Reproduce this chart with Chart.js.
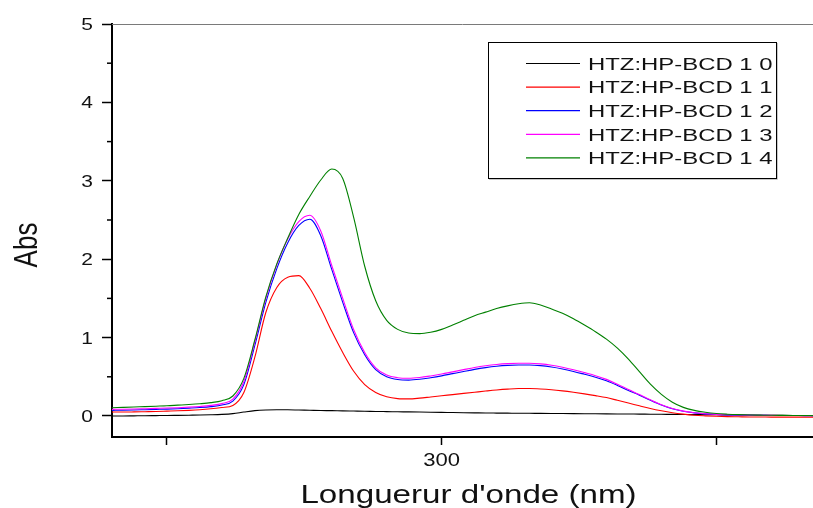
<!DOCTYPE html>
<html>
<head>
<meta charset="utf-8">
<script src="https://cdn.jsdelivr.net/npm/chart.js@4.4.0/dist/chart.umd.min.js"></script>
<style>
  html, body { margin: 0; padding: 0; background: #fff; }
  #wrap { width: 813px; height: 508px; }
</style>
</head>
<body>
<div id="wrap"><canvas id="absChart" width="813" height="508"></canvas></div>
<script>
// wavelength (nm)
const wavelengths = [240, 242, 244, 246, 248, 250, 252, 254, 256, 258,
  260, 262, 264, 266, 268, 270, 272, 274, 276, 278,
  280, 282, 284, 286, 288, 290, 292, 294, 296, 298,
  300, 302, 304, 306, 308, 310, 312, 314, 316, 318,
  320, 322, 324, 326, 328, 330, 332, 334, 336, 338,
  340, 342, 344, 346, 348, 350, 352, 354, 356, 358,
  360, 362, 364, 366, 368];

// absorbance, HTZ:HP-BCD molar ratios
const ratio10 = [0.000, 0.000, 0.002, 0.004, 0.005, 0.006, 0.008, 0.010, 0.012, 0.015,
  0.020, 0.030, 0.050, 0.068, 0.077, 0.080, 0.079, 0.076, 0.073, 0.070,
  0.068, 0.065, 0.063, 0.061, 0.058, 0.056, 0.054, 0.052, 0.050, 0.048,
  0.046, 0.044, 0.042, 0.040, 0.038, 0.037, 0.036, 0.035, 0.034, 0.033,
  0.032, 0.031, 0.030, 0.029, 0.028, 0.027, 0.026, 0.025, 0.024, 0.023,
  0.022, 0.020, 0.019, 0.018, 0.016, 0.015, 0.013, 0.012, 0.011, 0.010,
  0.009, 0.008, 0.007, 0.006, 0.005];

const ratio11 = [0.050, 0.050, 0.052, 0.055, 0.058, 0.062, 0.066, 0.072, 0.080, 0.092,
  0.108, 0.135, 0.300, 0.750, 1.320, 1.640, 1.770, 1.790, 1.630, 1.370,
  1.080, 0.810, 0.570, 0.400, 0.300, 0.245, 0.222, 0.218, 0.228, 0.243,
  0.258, 0.273, 0.288, 0.303, 0.318, 0.332, 0.343, 0.350, 0.350, 0.345,
  0.335, 0.320, 0.302, 0.282, 0.260, 0.235, 0.200, 0.165, 0.130, 0.095,
  0.066, 0.042, 0.024, 0.010, 0.002, -0.004, -0.008, -0.010, -0.012, -0.013,
  -0.014, -0.015, -0.015, -0.015, -0.015];

const ratio12 = [0.072, 0.073, 0.076, 0.080, 0.084, 0.088, 0.093, 0.100, 0.108, 0.120,
  0.140, 0.190, 0.400, 0.900, 1.450, 1.880, 2.210, 2.430, 2.510, 2.300,
  1.870, 1.450, 1.060, 0.780, 0.590, 0.500, 0.465, 0.458, 0.468, 0.488,
  0.512, 0.540, 0.568, 0.595, 0.617, 0.634, 0.645, 0.650, 0.650, 0.642,
  0.625, 0.600, 0.568, 0.532, 0.495, 0.450, 0.390, 0.325, 0.265, 0.200,
  0.140, 0.092, 0.060, 0.040, 0.027, 0.019, 0.014, 0.011, 0.009, 0.008,
  0.007, 0.006, 0.006, 0.005, 0.005];

const ratio13 = [0.085, 0.086, 0.089, 0.093, 0.097, 0.101, 0.106, 0.113, 0.122, 0.135,
  0.158, 0.215, 0.440, 0.950, 1.500, 1.930, 2.260, 2.480, 2.560, 2.360,
  1.920, 1.500, 1.100, 0.810, 0.615, 0.522, 0.488, 0.481, 0.491, 0.511,
  0.535, 0.563, 0.591, 0.618, 0.640, 0.657, 0.668, 0.673, 0.673, 0.665,
  0.648, 0.622, 0.590, 0.553, 0.514, 0.467, 0.405, 0.337, 0.273, 0.206,
  0.144, 0.095, 0.062, 0.041, 0.028, 0.020, 0.015, 0.012, 0.010, 0.009,
  0.008, 0.007, 0.007, 0.006, 0.006];

const ratio14 = [0.105, 0.110, 0.115, 0.120, 0.125, 0.130, 0.138, 0.146, 0.156, 0.170,
  0.195, 0.255, 0.480, 0.970, 1.520, 1.940, 2.270, 2.570, 2.800, 3.010,
  3.150, 3.030, 2.530, 1.910, 1.470, 1.220, 1.105, 1.058, 1.050, 1.068,
  1.105, 1.160, 1.220, 1.280, 1.325, 1.370, 1.405, 1.432, 1.445, 1.415,
  1.365, 1.310, 1.240, 1.160, 1.075, 0.980, 0.865, 0.725, 0.565, 0.405,
  0.275, 0.175, 0.110, 0.072, 0.048, 0.032, 0.023, 0.017, 0.013, 0.011,
  0.009, 0.008, 0.007, 0.006, 0.006];

const seriesNames = ['HTZ:HP-BCD 1 0', 'HTZ:HP-BCD 1 1', 'HTZ:HP-BCD 1 2', 'HTZ:HP-BCD 1 3', 'HTZ:HP-BCD 1 4'];
const seriesValues = [ratio10, ratio11, ratio12, ratio13, ratio14];
const seriesColors = ['#000000', '#ff0000', '#0000ff', '#ff00ff', '#008000'];

const yTicks = [0, 1, 2, 3, 4, 5];
const yMinorTicks = [0.5, 1.5, 2.5, 3.5, 4.5];
const xTicks = [250, 300, 350];
const xTickLabels = ['', '300', ''];

const FONT = "'Liberation Sans', Arial, sans-serif";

// text in this figure is drawn wide, so squeeze it through a horizontal scale
function wideText(ctx, text, x, y, size, sx, align) {
  ctx.save();
  ctx.translate(x, y);
  ctx.scale(sx, 1);
  ctx.font = size + 'px ' + FONT;
  ctx.textAlign = align;
  ctx.textBaseline = 'alphabetic';
  ctx.fillStyle = '#111';
  ctx.fillText(text, 0, 0);
  ctx.restore();
}

const decorPlugin = {
  id: 'decor',
  afterDraw(chart) {
    const ctx = chart.ctx;
    const area = chart.chartArea;
    const xs = chart.scales.x;
    const ys = chart.scales.y;

    // thin frame line along the top
    ctx.save();
    ctx.strokeStyle = '#7a7a7a';
    ctx.lineWidth = 1;
    ctx.beginPath();
    ctx.moveTo(area.left, area.top + 0.5);
    ctx.lineTo(area.right, area.top + 0.5);
    ctx.stroke();

    // minor ticks on the y axis
    ctx.strokeStyle = '#000';
    ctx.lineWidth = 1.5;
    yMinorTicks.forEach(v => {
      const py = ys.getPixelForValue(v);
      ctx.beginPath();
      ctx.moveTo(area.left - 5, py);
      ctx.lineTo(area.left, py);
      ctx.stroke();
    });
    ctx.restore();

    // tick labels
    yTicks.forEach(v => {
      const py = ys.getPixelForValue(v);
      wideText(ctx, String(v), 93, py + 6, 16.5, 1.27, 'right');
    });
    xTicks.forEach((v, i) => {
      if (!xTickLabels[i]) return;
      wideText(ctx, xTickLabels[i], xs.getPixelForValue(v), 466, 19, 1.16, 'center');
    });

    // axis titles
    wideText(ctx, "Longuerur d'onde (nm)", 468.5, 503, 25.5, 1.3, 'center');
    ctx.save();
    ctx.translate(36.5, 245);
    ctx.scale(1.3, 1);
    ctx.rotate(-Math.PI / 2);
    ctx.font = '26px ' + FONT;
    ctx.textAlign = 'center';
    ctx.textBaseline = 'alphabetic';
    ctx.fillStyle = '#111';
    ctx.fillText('Abs', 0, 0);
    ctx.restore();

    // legend box
    const box = { left: 488, top: 42, right: 776, bottom: 178 };
    ctx.save();
    ctx.strokeStyle = '#c8c8c8';
    ctx.lineWidth = 1;
    ctx.beginPath();
    ctx.moveTo(box.left + 1, box.bottom + 1.5);
    ctx.lineTo(box.right + 1.5, box.bottom + 1.5);
    ctx.lineTo(box.right + 1.5, box.top + 1);
    ctx.stroke();
    ctx.strokeStyle = '#000';
    ctx.strokeRect(box.left + 0.5, box.top + 0.5, box.right - box.left, box.bottom - box.top);
    chart.data.datasets.forEach((ds, i) => {
      const rowY = 63.5 + i * 23.6;
      ctx.strokeStyle = ds.borderColor;
      ctx.lineWidth = 1.2;
      ctx.beginPath();
      ctx.moveTo(526, rowY);
      ctx.lineTo(580, rowY);
      ctx.stroke();
      wideText(ctx, ds.label, 588, rowY + 6.2, 17.2, 1.39, 'left');
    });
    ctx.restore();
  }
};

const datasets = seriesNames.map((name, i) => ({
  label: name,
  data: wavelengths.map((w, k) => ({ x: w, y: seriesValues[i][k] })),
  borderColor: seriesColors[i],
  borderWidth: 1.1,
  pointRadius: 0,
  cubicInterpolationMode: 'monotone',
  fill: false,
  order: seriesNames.length - i
}));

new Chart(document.getElementById('absChart').getContext('2d'), {
  type: 'line',
  data: { datasets: datasets },
  options: {
    responsive: false,
    animation: false,
    layout: { padding: { top: 24, left: 0, right: 0, bottom: 0 } },
    plugins: { legend: { display: false }, tooltip: { enabled: false } },
    scales: {
      x: {
        type: 'linear',
        min: 240,
        max: 367.6,
        afterFit(scale) { scale.height = 71; },
        afterBuildTicks(scale) { scale.ticks = xTicks.map(v => ({ value: v })); },
        ticks: { display: false },
        grid: { display: true, drawOnChartArea: false, drawTicks: true, tickLength: 8, tickColor: '#000', tickWidth: 1.5 },
        border: { display: true, color: '#000', width: 2 }
      },
      y: {
        min: -0.268,
        max: 5,
        afterFit(scale) { scale.width = 112; },
        afterBuildTicks(scale) { scale.ticks = yTicks.map(v => ({ value: v })); },
        ticks: { display: false },
        grid: { display: true, drawOnChartArea: false, drawTicks: true, tickLength: 10, tickColor: '#000', tickWidth: 1.5 },
        border: { display: true, color: '#000', width: 2 }
      }
    }
  },
  plugins: [decorPlugin]
});
</script>
</body>
</html>
